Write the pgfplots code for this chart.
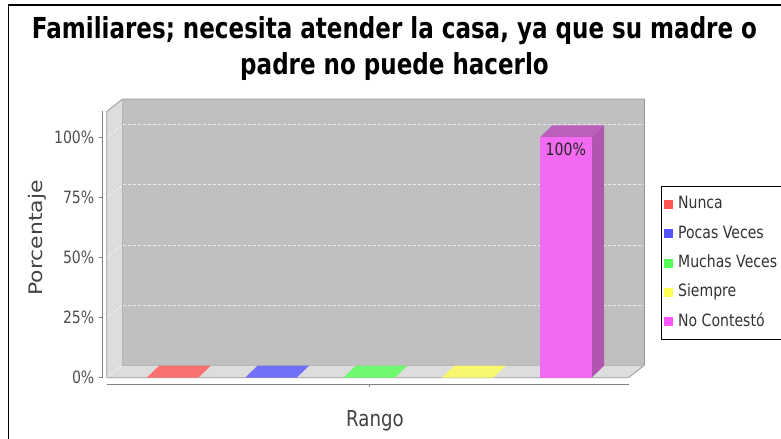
\documentclass[border=0pt]{standalone}
\usepackage{pgfplots}
\pgfplotsset{compat=1.18}
\usepackage{fontspec}
\usepackage{graphicx}
\setmainfont{DejaVu Sans}[FakeStretch=0.83]
\newfontfamily\plainfont{DejaVu Sans}
\definecolor{wallback}{RGB}{192,192,192}
\definecolor{wallside}{RGB}{221,221,221}
\definecolor{edgegray}{RGB}{150,150,150}
\definecolor{axisgray}{RGB}{128,128,128}
\definecolor{tickgray}{RGB}{80,80,80}
\definecolor{labgray}{RGB}{68,68,68}
\definecolor{gridw}{RGB}{235,235,235}
\definecolor{barR}{RGB}{248,112,112}
\definecolor{barB}{RGB}{112,112,248}
\definecolor{barG}{RGB}{112,248,112}
\definecolor{barY}{RGB}{248,248,112}
\definecolor{barM}{RGB}{242,106,242}
\definecolor{barMtop}{RGB}{186,96,186}
\definecolor{barMside}{RGB}{176,86,176}
\definecolor{legR}{RGB}{255,85,85}
\definecolor{legB}{RGB}{85,85,255}
\definecolor{legG}{RGB}{85,255,85}
\definecolor{legY}{RGB}{255,255,85}
\definecolor{legM}{RGB}{255,85,255}
\pgfplotsset{lsq/.style={legend image code/.code={\fill[fill=#1] (0bp,-4.5bp) rectangle (9bp,4.5bp); \path (0bp,0bp) -- (12bp,0bp);}}}
\begin{document}
\begin{tikzpicture}
\useasboundingbox (0,0) rectangle (781bp,439bp);
\fill[white] (0,0) rectangle (781bp,439bp);
\draw[black, line width=1.6bp] (8.5bp,-2bp) -- (8.5bp,434bp) -- (785bp,434bp);
\node[anchor=base, inner sep=0pt] at (394.5bp,400bp) {\resizebox*{725bp}{\totalheight}{\plainfont\bfseries\fontsize{29}{36}\selectfont\begin{tabular}[t]{@{}c@{}}Familiares; necesita atender la casa, ya que su madre o\\ padre no puede hacerlo\end{tabular}}};
\begin{axis}[
  at={(102bp,54.7bp)}, anchor=south west,
  width=526.5bp, height=272.8bp, scale only axis,
  xmin=0.2830, xmax=5.6374, ymin=-2.745, ymax=110.73,
  clip=false,
  axis x line=bottom, axis y line=left,
  axis line style={-},
  x axis line style={draw=axisgray, line width=0.8bp, shorten <=4.7bp},
  y axis line style={draw=axisgray, line width=0.8bp, shorten <=6.6bp},
  ytick={0,25,50,75,100},
  yticklabel={\pgfmathprintnumber{\tick}\%},
  /pgf/number format/assume math mode=true,
  xtick={3}, xticklabels={},
  tick align=outside, major tick length=3bp,
  tick style={axisgray, line width=0.8bp},
  yticklabel style={font=\fontsize{17}{20}\selectfont, text=tickgray, inner sep=0pt, xshift=-4.5bp},
  xlabel={\fontsize{22}{26}\selectfont Rango},
  xlabel style={at={(axis description cs:0.5185,-0.1529)}, anchor=base, text=labgray, inner sep=0pt},
  ylabel={\scalebox{1}[0.85]{\plainfont\fontsize{22}{26}\selectfont Porcentaje}},
  ylabel style={at={(axis description cs:-0.1220,0.5363)}, anchor=center, text=labgray, inner sep=0pt},
  legend style={at={(axis description cs:1.0612,0.7269)}, anchor=north west,
    draw=black, line width=0.8bp, fill=white, inner xsep=3bp, inner ysep=8.5bp,
    row sep=10.3bp, font=\fontsize{17}{20}\selectfont, text=black!80,
    nodes={text height=13bp, text depth=4bp, inner ysep=1bp, inner xsep=2bp}},
  legend cell align=left,
]
% walls
\addplot[forget plot, fill=wallside, draw=none] coordinates {(0.3308,0) (0.3308,110.73) (0.4935,115.93) (0.4935,5.2)} -- cycle;
\addplot[forget plot, fill=wallback, draw=none] coordinates {(0.4935,5.2) (0.4935,115.93) (5.8001,115.93) (5.8001,5.2)} -- cycle;
\addplot[forget plot, fill=wallside, draw=none] coordinates {(0.3308,0) (0.4935,5.2) (5.8001,5.2) (5.6374,0)} -- cycle;
% grid on back wall
\addplot[forget plot, gridw, line width=0.8bp, dash pattern=on 3bp off 2bp] coordinates {(0.4935,5.2) (5.8001,5.2)};
\addplot[forget plot, gridw, line width=0.8bp, dash pattern=on 3bp off 2bp] coordinates {(0.4935,30.2) (5.8001,30.2)};
\addplot[forget plot, gridw, line width=0.8bp, dash pattern=on 3bp off 2bp] coordinates {(0.4935,55.2) (5.8001,55.2)};
\addplot[forget plot, gridw, line width=0.8bp, dash pattern=on 3bp off 2bp] coordinates {(0.4935,80.2) (5.8001,80.2)};
\addplot[forget plot, gridw, line width=0.8bp, dash pattern=on 3bp off 2bp] coordinates {(0.4935,105.2) (5.8001,105.2)};
% grid on left wall
\addplot[forget plot, white, line width=0.6bp, dash pattern=on 2bp off 2bp] coordinates {(0.3308,0) (0.4935,5.2)};
\addplot[forget plot, white, line width=0.6bp, dash pattern=on 2bp off 2bp] coordinates {(0.3308,25) (0.4935,30.2)};
\addplot[forget plot, white, line width=0.6bp, dash pattern=on 2bp off 2bp] coordinates {(0.3308,50) (0.4935,55.2)};
\addplot[forget plot, white, line width=0.6bp, dash pattern=on 2bp off 2bp] coordinates {(0.3308,75) (0.4935,80.2)};
\addplot[forget plot, white, line width=0.6bp, dash pattern=on 2bp off 2bp] coordinates {(0.3308,100) (0.4935,105.2)};
% wall edges
\addplot[forget plot, edgegray, line width=0.8bp] coordinates {(0.3308,0) (0.3308,110.73) (0.4935,115.93) (5.8001,115.93) (5.8001,5.2) (5.6374,0)} -- cycle;
\addplot[forget plot, edgegray!70, line width=0.5bp] coordinates {(0.4935,115.93) (0.4935,5.2) (5.8001,5.2)};
% zero bars (top faces)
\addplot[forget plot, fill=barR, draw=none] coordinates {(0.7376,0) (0.8646,5) (1.3894,5) (1.2624,0)} -- cycle;
\addplot[forget plot, fill=barB, draw=none] coordinates {(1.7376,0) (1.8646,5) (2.3894,5) (2.2624,0)} -- cycle;
\addplot[forget plot, fill=barG, draw=none] coordinates {(2.7376,0) (2.8646,5) (3.3894,5) (3.2624,0)} -- cycle;
\addplot[forget plot, fill=barY, draw=none] coordinates {(3.7376,0) (3.8646,5) (4.3894,5) (4.2624,0)} -- cycle;
% magenta bar 3D faces
\addplot[forget plot, fill=barMside, draw=none] coordinates {(5.2624,0) (5.3894,5) (5.3894,105) (5.2624,100)} -- cycle;
\addplot[forget plot, fill=barMtop, draw=none] coordinates {(4.7376,100) (4.8646,105) (5.3894,105) (5.2624,100)} -- cycle;
% front faces
\addplot[ybar, bar width=0.5248, bar shift=0pt, fill=barR, draw=none, lsq=legR] coordinates {(1,0)};
\addplot[ybar, bar width=0.5248, bar shift=0pt, fill=barB, draw=none, lsq=legB] coordinates {(2,0)};
\addplot[ybar, bar width=0.5248, bar shift=0pt, fill=barG, draw=none, lsq=legG] coordinates {(3,0)};
\addplot[ybar, bar width=0.5248, bar shift=0pt, fill=barY, draw=none, lsq=legY] coordinates {(4,0)};
\addplot[ybar, bar width=0.5248, bar shift=0pt, fill=barM, draw=none, lsq=legM,
  nodes near coords={\pgfmathprintnumber{\pgfplotspointmeta}\%},
  nodes near coords align={below},
  every node near coord/.append style={font=\fontsize{17}{20}\selectfont, text=black!85, yshift=-2bp}] coordinates {(5,100)};
\legend{Nunca, Pocas Veces, Muchas Veces, Siempre, No Contestó}
\end{axis}
\end{tikzpicture}
\end{document}
